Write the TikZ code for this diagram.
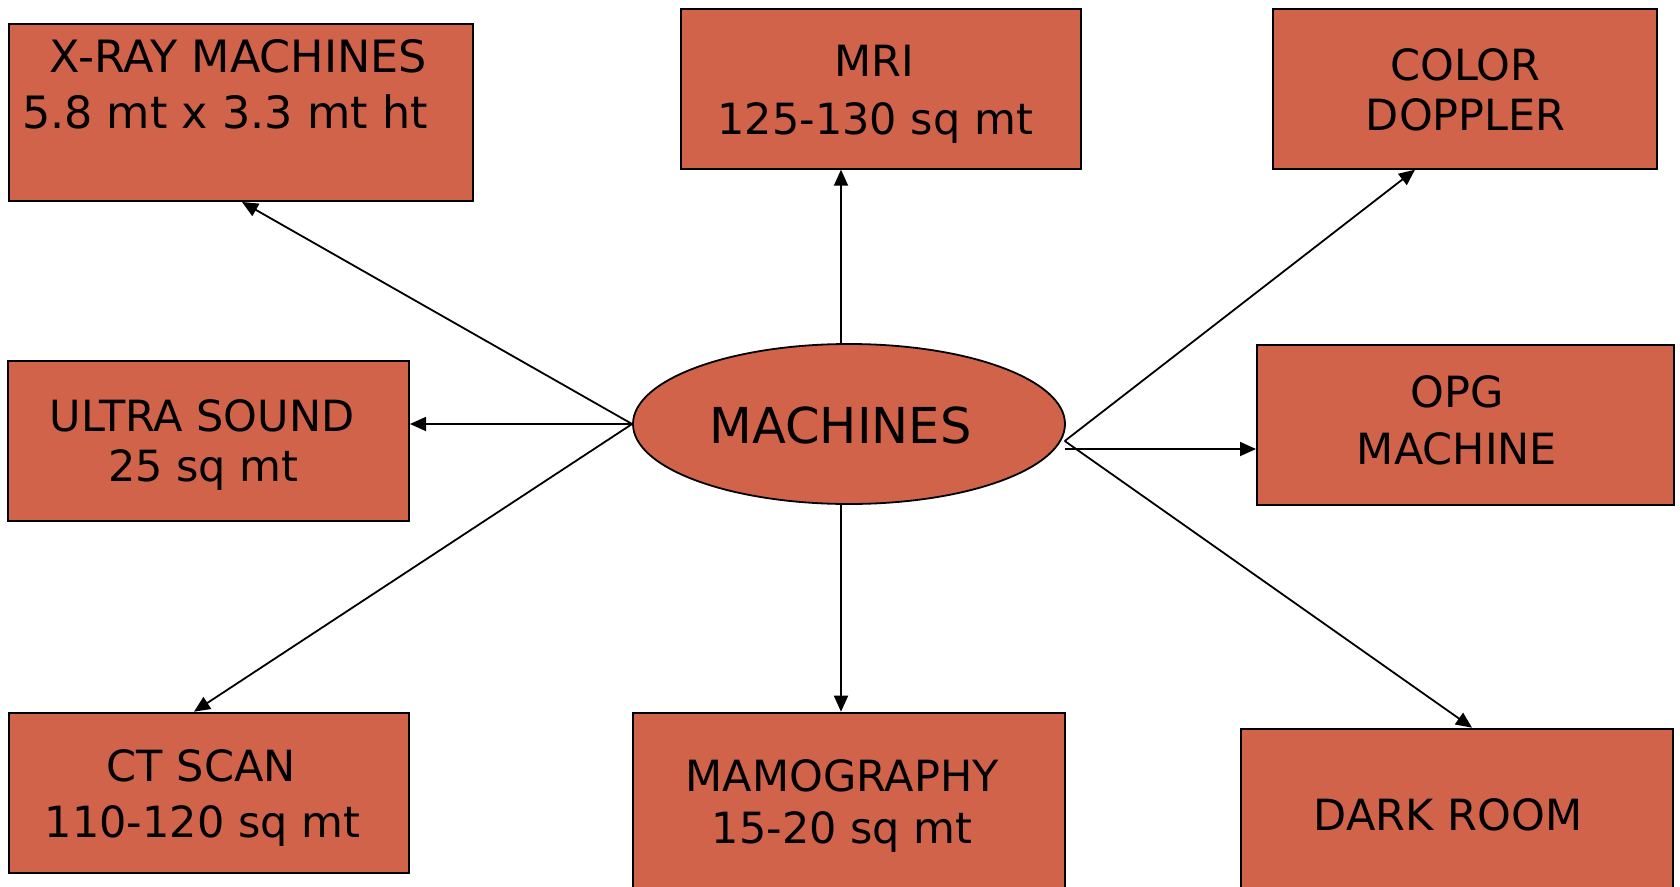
\documentclass[tikz,border=0pt]{standalone}
\usepackage{fontspec}
\setmainfont{DejaVu Sans}
\usetikzlibrary{arrows.meta,shapes.geometric}
\definecolor{boxfill}{RGB}{208,99,74}
\tikzset{
  box/.style={draw=black,line width=2pt,fill=boxfill,rectangle,inner sep=0pt},
  hubshape/.style={draw=black,line width=1.8pt,fill=boxfill,ellipse,inner sep=0pt,minimum width=432pt,minimum height=160pt},
  txt/.style={anchor=base,inner sep=0pt,font=\fontsize{43}{50}\selectfont},
  txtbig/.style={anchor=base,inner sep=0pt,font=\fontsize{44.5}{52}\selectfont},
  txthub/.style={anchor=base,inner sep=0pt,font=\fontsize{49.5}{58}\selectfont},
  arr/.style={draw=black,line width=1.8pt,-{Triangle[length=16pt,width=14pt]}}
}
\begin{document}
\begin{tikzpicture}[x=1pt,y=-1pt]
\useasboundingbox (0,0) rectangle (1680,886);
\clip (0,0) rectangle (1680,886);
\fill[white] (0,0) rectangle (1680,886);

% boxes
\node[box,minimum width=464.4pt,minimum height=176.6pt] (xray) at (240.8,112.7) {};
\node[box,minimum width=400.3pt,minimum height=160pt] (mri) at (880.85,88.7) {};
\node[box,minimum width=384.3pt,minimum height=160pt] (cd) at (1464.85,88.7) {};
\node[box,minimum width=400.7pt,minimum height=160pt] (us) at (208.65,440.7) {};
\node[box,minimum width=416.7pt,minimum height=160pt] (opg) at (1465.35,424.7) {};
\node[box,minimum width=400.4pt,minimum height=160pt] (ct) at (208.8,792.7) {};
\node[box,minimum width=432.3pt,minimum height=200pt] (mamo) at (848.85,812.7) {};
\node[box,minimum width=432pt,minimum height=200pt] (dark) at (1457,828.7) {};
\node[hubshape] (m) at (849,424) {};

% texts
\node[txtbig] (xray1) at (238.5,72) {X-RAY MACHINES};
\node[txtbig] (xray2) at (225,128) {5.8 mt x 3.3 mt ht};
\node[txt] (mri1) at (874,76.7) {MRI};
\node[txt] (mri2) at (875.3,134) {125-130 sq mt};
\node[txt] (cd1) at (1465.3,80) {COLOR};
\node[txt] (cd2) at (1465.8,130.7) {DOPPLER};
\node[txt] (us1) at (202,431.7) {ULTRA SOUND};
\node[txt] (us2) at (203.3,481.7) {25 sq mt};
\node[txthub] (m1) at (840.5,443) {MACHINES};
\node[txt] (opg1) at (1457,407) {OPG};
\node[txt] (opg2) at (1457,464) {MACHINE};
\node[txt] (ct1) at (201.3,781) {CT SCAN};
\node[txt] (ct2) at (202.5,837.7) {110-120 sq mt};
\node[txt] (mamo1) at (842.3,791.7) {MAMOGRAPHY};
\node[txt] (mamo2) at (842.3,843) {15-20 sq mt};
\node[txt] (dark1) at (1448,830) {DARK ROOM};

% helper coordinates
\coordinate (vx) at (841,0);
\coordinate (hubR) at (1064.7,441);
\coordinate (hubR2) at (1064.7,449);
\coordinate (txr) at (242,0);
\coordinate (tct) at (194,0);
\coordinate (tcd) at (1415,0);
\coordinate (tdk) at (1472,0);

% connectors
\draw[arr] (m.west) -- (xray.south -| txr);
\draw[arr] (m.west) -- (us.east |- m.west);
\draw[arr] (m.west) -- (ct.north -| tct);
\draw[arr] (m.north -| vx) -- (mri.south -| vx);
\draw[arr] (m.south -| vx) -- (mamo.north -| vx);
\draw[arr] (hubR) -- (cd.south -| tcd);
\draw[arr] (hubR2) -- (opg.west |- hubR2);
\draw[arr] (hubR) -- (dark.north -| tdk);
\end{tikzpicture}
\end{document}
